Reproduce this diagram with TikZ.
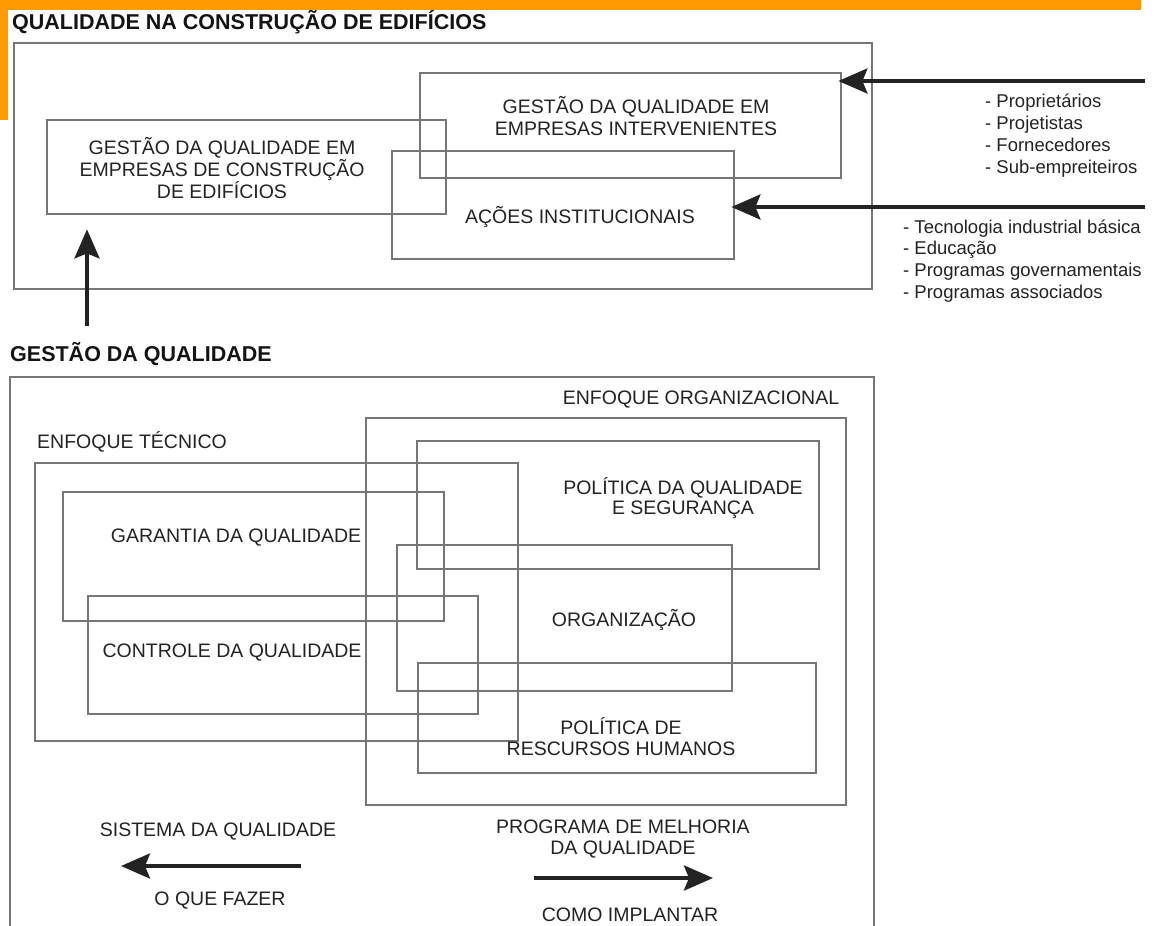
\documentclass[tikz,border=0pt]{standalone}
\usepackage{fontspec}
\setmainfont{Liberation Sans}
\usetikzlibrary{arrows.meta,fit}
\definecolor{boxgray}{RGB}{118,118,118}
\definecolor{orng}{RGB}{255,153,0}
\definecolor{ink}{RGB}{35,35,35}
\tikzset{
  box/.style={draw=boxgray,line width=2.8pt,inner sep=0pt},
  boxline/.style={draw=boxgray,line width=2.8pt},
  lbl/.style={text=ink,font=\fontsize{19.5}{22}\selectfont,align=center,inner sep=0pt},
  lst/.style={text=ink,font=\fontsize{18.5}{21.8}\selectfont,align=left,inner sep=0pt,anchor=west},
  hd/.style={text=black!92,font=\bfseries\fontsize{21.5}{24}\selectfont,inner sep=0pt,anchor=west},
  bigarrow/.style={draw=ink,line width=3.8pt,-{Stealth[length=29pt,width=25pt,inset=5pt]}},
}
\begin{document}
\begin{tikzpicture}[x=1pt,y=-1pt]
\useasboundingbox (0,0) rectangle (1157,926);
\fill[white] (0,0) rectangle (1157,926);
% orange frame
\fill[orng] (0,0) rectangle (1141,10);
\fill[orng] (0,0) rectangle (8,120);

% ---------- top section ----------
\node[hd] (h1) at (12,22) {QUALIDADE NA CONSTRUÇÃO DE EDIFÍCIOS};
\node[box, fit={(14,43) (872,289)}] (top) {};
\node[box, fit={(47,120) (446,214)}] (gce) {};
\node[box, fit={(420,73) (841,178)}] (interv) {};
\node[box, fit={(392,151) (734,259)}] (acoes) {};

\node[lbl] (tgce) at (222,168) {GESTÃO DA QUALIDADE EM\\EMPRESAS DE CONSTRUÇÃO\\DE EDIFÍCIOS};
\node[lbl] (tinterv) at (636,116) {GESTÃO DA QUALIDADE EM\\EMPRESAS INTERVENIENTES};
\node[lbl] (tacoes) at (580,217) {AÇÕES INSTITUCIONAIS};

\node[lst] (list1) at (985,135.5) {- Proprietários\\- Projetistas\\- Fornecedores\\- Sub-empreiteiros};
\node[lst] (list2) at (903,261) {- Tecnologia industrial básica\\- Educação\\- Programas governamentais\\- Programas associados};

\coordinate (s1) at (1145,81);
\coordinate (s2) at (1145,207);
\coordinate (s3) at (87,326);
\draw[bigarrow, shorten >=-4pt] (s1) -- (s1 -| interv.east);
\draw[bigarrow, shorten >=-4pt] (s2) -- (s2 -| acoes.east);
\draw[bigarrow, shorten >=14pt] (s3) -- (s3 |- gce.south);

% ---------- bottom section ----------
\node[hd] (h2) at (10,354) {GESTÃO DA QUALIDADE};
\coordinate (ob1) at (10,926);
\coordinate (ob2) at (874,926);
\draw[boxline] (ob1) -- (10,377) -- (874,377) -- (ob2);

\node[lbl] (torg) at (701,400) {ENFOQUE ORGANIZACIONAL};
\node[box, fit={(366,418) (846,805)}] (org) {};
\node[lbl, anchor=west] (ttec) at (37,442) {ENFOQUE TÉCNICO};
\node[box, fit={(35,463) (518,741)}] (tec) {};
\node[box, fit={(63,492) (444,621)}] (gar) {};
\node[box, fit={(88,596) (478,714)}] (con) {};
\node[box, fit={(417,441) (819,569)}] (pol) {};
\node[box, fit={(397,545) (732,691)}] (orgz) {};
\node[box, fit={(418,663) (816,773)}] (rh) {};

\node[lbl] (tgar) at (236,538) {GARANTIA DA QUALIDADE};
\node[lbl] (tcon) at (232,653) {CONTROLE DA QUALIDADE};
\node[lbl, font=\fontsize{19.5}{20.5}\selectfont] (tpol) at (683,498) {POLÍTICA DA QUALIDADE\\E SEGURANÇA};
\node[lbl] (torgz) at (624,620) {ORGANIZAÇÃO};
\node[lbl, font=\fontsize{19.5}{21}\selectfont] (trh) at (621,737) {POLÍTICA DE\\RESCURSOS HUMANOS};

\node[lbl] (tsis) at (218,832) {SISTEMA DA QUALIDADE};
\node[lbl] (tfaz) at (220,901) {O QUE FAZER};
\node[lbl, font=\fontsize{19.5}{21}\selectfont] (tprog) at (623,839) {PROGRAMA DE MELHORIA\\DA QUALIDADE};
\node[lbl] (timp) at (630,915) {COMO IMPLANTAR};

\coordinate (a1s) at (301,866);
\coordinate (a1e) at (121,866);
\coordinate (a2s) at (534,878);
\coordinate (a2e) at (713,878);
\draw[bigarrow] (a1s) -- (a1e);
\draw[bigarrow] (a2s) -- (a2e);
\end{tikzpicture}
\end{document}
